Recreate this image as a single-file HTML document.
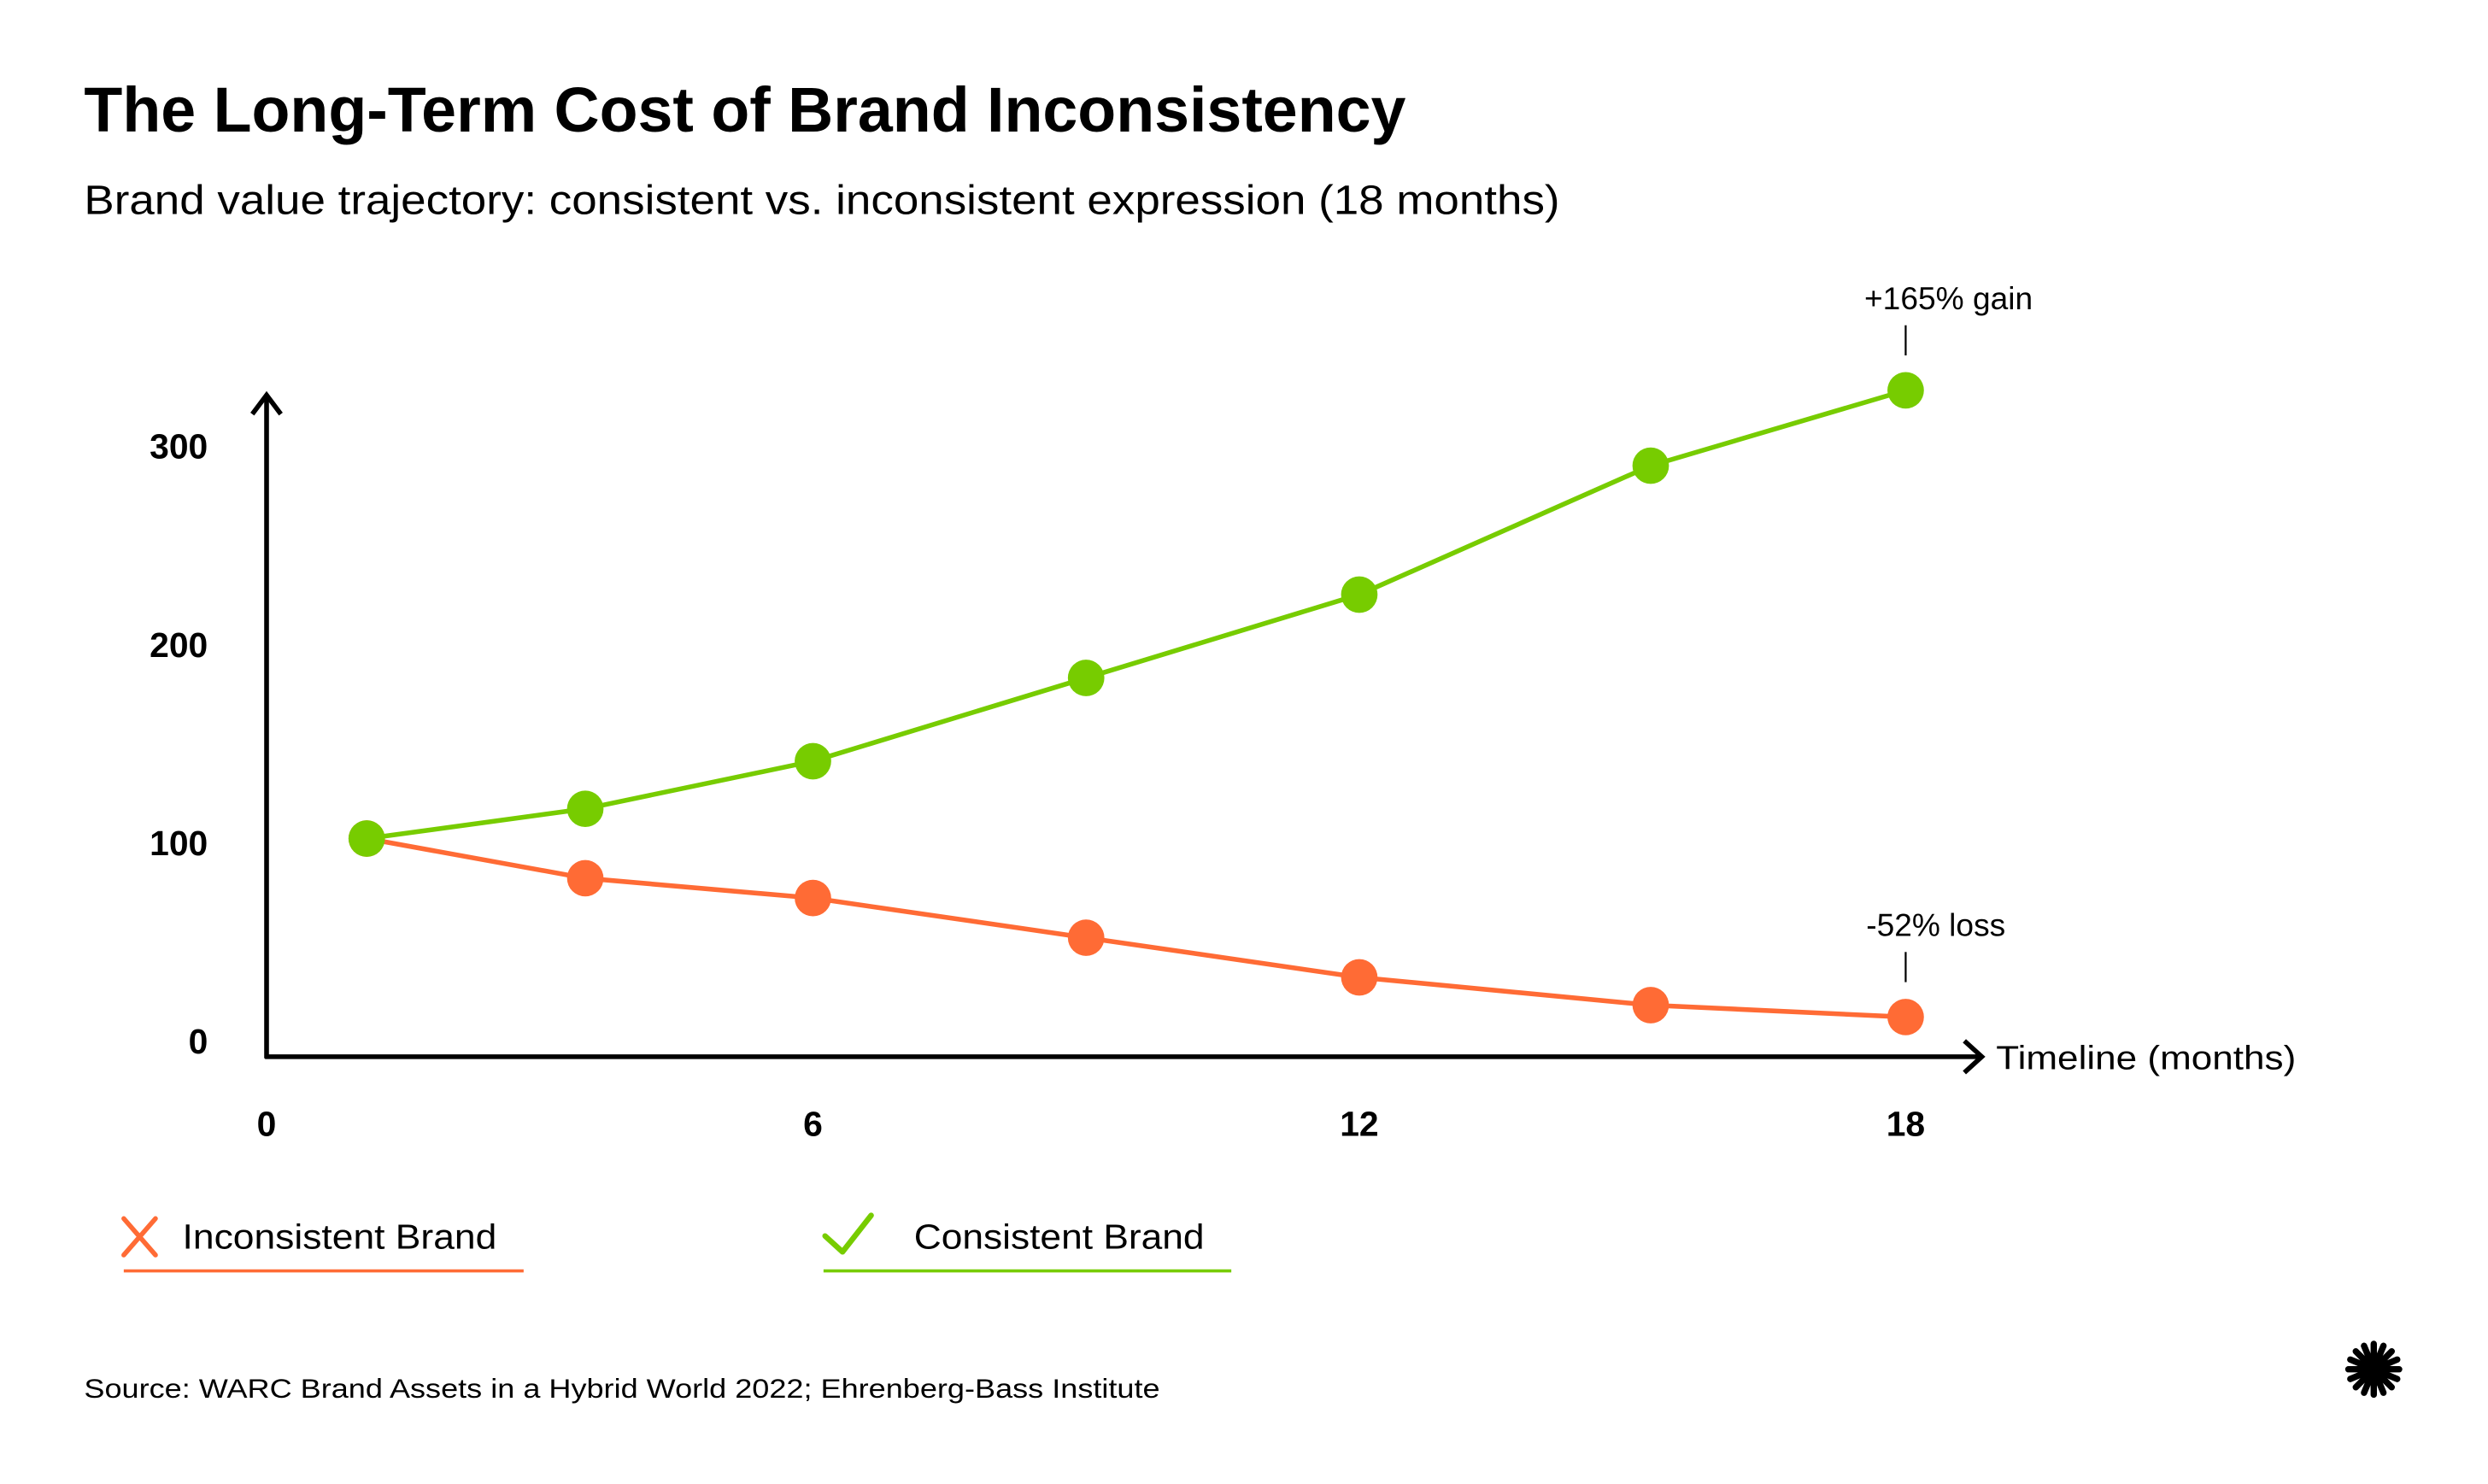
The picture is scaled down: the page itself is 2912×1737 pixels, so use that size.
<!DOCTYPE html>
<html><head><meta charset="utf-8"><style>
html,body{margin:0;padding:0;background:#fff;}
svg{display:block;font-family:"Liberation Sans",sans-serif;}
</style></head><body>
<svg id="chart" width="2912" height="1737" viewBox="0 0 1568 935.3" xmlns="http://www.w3.org/2000/svg">
<rect width="1568" height="935.3" fill="#fff"/>
<text x="53" y="83" font-size="40" font-weight="bold" textLength="833" lengthAdjust="spacingAndGlyphs" fill="#000">The Long-Term Cost of Brand Inconsistency</text>
<text x="53" y="135" font-size="26" textLength="930" lengthAdjust="spacingAndGlyphs" fill="#000">Brand value trajectory: consistent vs. inconsistent expression (18 months)</text>
<g>
<line x1="168" y1="667" x2="168" y2="249" stroke="#000" stroke-width="3"/>
<polyline points="159,261 168,249 177,261" fill="none" stroke="#000" stroke-width="3"/>
</g>
<g>
<line x1="167" y1="666" x2="1249" y2="666" stroke="#000" stroke-width="3"/>
<polyline points="1238,656 1249,666 1238,676" fill="none" stroke="#000" stroke-width="3"/>
</g>
<text x="1258" y="674" font-size="21" textLength="189" lengthAdjust="spacingAndGlyphs" fill="#000">Timeline (months)</text>
<g id="yticks"></g><g id="xticks"></g>
<g id="series"></g>
<g>
<text x="1228" y="195" font-size="20" text-anchor="middle" fill="#000">+165% gain</text>
<line x1="1201" y1="205" x2="1201" y2="224" stroke="#000" stroke-width="1.2"/>
</g>
<g>
<text x="1220" y="590" font-size="20" text-anchor="middle" fill="#000">-52% loss</text>
<line x1="1201" y1="600" x2="1201" y2="619" stroke="#000" stroke-width="1.2"/>
</g>
<g>
<path d="M78,768 L98,791 M98,768 L78,791" stroke="#ff6b35" stroke-width="3" stroke-linecap="round"/>
<text x="115" y="787" font-size="22" textLength="198" lengthAdjust="spacingAndGlyphs" fill="#000">Inconsistent Brand</text>
<line x1="78" y1="801" x2="330" y2="801" stroke="#ff6b35" stroke-width="2"/>
</g>
<g>
<polyline points="520,779 531,789 549,766" fill="none" stroke="#77cc00" stroke-width="3.5" stroke-linecap="round" stroke-linejoin="round"/>
<text x="576" y="787" font-size="22" textLength="183" lengthAdjust="spacingAndGlyphs" fill="#000">Consistent Brand</text>
<line x1="519" y1="801" x2="776" y2="801" stroke="#77cc00" stroke-width="2"/>
</g>
<text x="53" y="881" font-size="17" textLength="678" lengthAdjust="spacingAndGlyphs" fill="#000">Source: WARC Brand Assets in a Hybrid World 2022; Ehrenberg-Bass Institute</text>
<g id="logo"></g>
</svg>
<script>
const months = [1.1, 3.5, 6, 9, 12, 15.2, 18];
const consistentValues = [102, 117, 141, 183, 225, 290, 328];
const inconsistentValues = [102, 82, 72, 52, 32, 18, 12];
const yTickLabels = [0, 100, 200, 300];
const xTickLabels = [0, 6, 12, 18];
const NS = "http://www.w3.org/2000/svg";
function xs(m){ return 168 + m * (1201 - 168) / 18; }
function ys(v){ return 656 - v * 1.25; }
function mk(tag, attrs, parent){ const e = document.createElementNS(NS, tag); for (const k in attrs) e.setAttribute(k, attrs[k]); parent.appendChild(e); return e; }
const yt = document.getElementById('yticks');
yTickLabels.forEach(v => {
  const t = mk('text', {x: 131, y: ys(v) + 8, 'font-size': 22, 'text-anchor': 'end', 'font-weight': 'bold', fill: '#000'}, yt);
  
  
  t.textContent = v;
});
const xt = document.getElementById('xticks');
xTickLabels.forEach(v => {
  const t = mk('text', {x: xs(v), y: 716, 'font-size': 22, 'text-anchor': 'middle', 'font-weight': 'bold', fill: '#000'}, xt);
  
  
  t.textContent = v;
});
const sg = document.getElementById('series');
function drawSeries(vals, color, name){
  const g = mk('g', {}, sg);
  
  
  const pl = mk('polyline', {points: vals.map((v,i) => xs(months[i]) + ',' + ys(v)).join(' '), fill: 'none', stroke: color, 'stroke-width': 3}, g);
  
  
  vals.forEach((v,i) => {
    const c = mk('circle', {cx: xs(months[i]), cy: ys(v), r: 11.5, fill: color}, g);
    
    
  });
}
drawSeries(inconsistentValues, '#ff6b35', 'inconsistent-series');
drawSeries(consistentValues, '#77cc00', 'consistent-series');
const logo = document.getElementById('logo');
for (let i = 0; i < 16; i++) {
  const a = i * Math.PI / 8;
  mk('line', {x1: 1496, y1: 863, x2: 1496 + 16 * Math.cos(a), y2: 863 + 16 * Math.sin(a), stroke: '#000', 'stroke-width': 4, 'stroke-linecap': 'round'}, logo);
}
mk('circle', {cx: 1496, cy: 863, r: 10, fill: '#000'}, logo);
</script>
</body></html>
